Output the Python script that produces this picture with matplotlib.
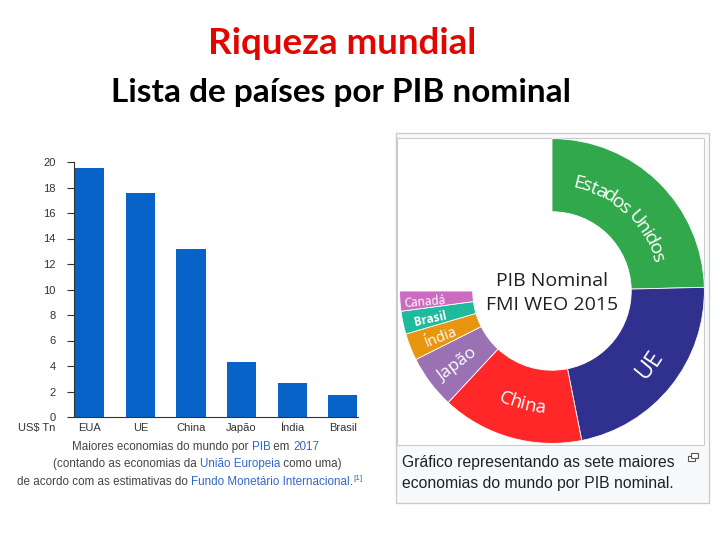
"""
Riqueza mundial - slide with GDP bar chart and nominal GDP donut
"""
import matplotlib
matplotlib.use("Agg")
import matplotlib.pyplot as plt
import numpy as np
from matplotlib.patches import Rectangle

# --- data ---
bar_countries = ["EUA", "UE", "China", "Japão", "Índia", "Brasil"]
bar_gdp = [19.5, 17.6, 13.2, 4.3, 2.65, 1.7]   # US$ trilhões, 2017
bar_yticks = [0, 2, 4, 6, 8, 10, 12, 14, 16, 18, 20]

donut_labels = ["Estados Unidos", "UE", "China", "Japão", "Índia", "Brasil", "Canadá"]
donut_gdp = [17.95, 16.23, 10.98, 4.12, 2.09, 1.77, 1.55]   # FMI WEO 2015
donut_colors = ["#31a84b", "#30318f", "#ff2727", "#9a71b3", "#e8950f", "#1fb99b", "#cc6cc0"]

BAR_BLUE = "#0863c9"
LINK_BLUE = "#3366cc"
GRAY_TXT = "#444444"

fig = plt.figure(figsize=(7.2, 5.4), dpi=100)
renderer = fig.canvas.get_renderer()

# background axes in pixel coordinates (y down)
bg = fig.add_axes([0, 0, 1, 1])
bg.set_xlim(0, 720)
bg.set_ylim(540, 0)
bg.axis("off")


def px_axes(left, top, right, bottom):
    return fig.add_axes([left / 720, 1 - bottom / 540, (right - left) / 720, (bottom - top) / 540])


def text_width(s, **kw):
    # width including trailing spaces
    t = fig.text(0, 0, s + "x", **kw)
    w1 = t.get_window_extent(renderer).width
    t.remove()
    t = fig.text(0, 0, "x", **kw)
    w2 = t.get_window_extent(renderer).width
    t.remove()
    return w1 - w2


def rich_line(x, y, pieces, **kw):
    cur = x
    for s, color in pieces:
        bg.text(cur, y, s, color=color, ha="left", va="baseline", **kw)
        cur += text_width(s, **kw)
    return cur


### Titles ###
bg.text(342, 54, "Riqueza mundial", color="#e10600", fontsize=26.5, family="Lato",
        weight="bold", ha="center", va="baseline")
bg.text(341, 102, "Lista de países por PIB nominal", color="black", fontsize=24, family="Lato",
        weight="bold", ha="center", va="baseline")

### Bar chart ###
ax = px_axes(74, 162, 358, 417)
xpos = np.arange(len(bar_countries))
ax.bar(xpos, bar_gdp, width=0.58, color=BAR_BLUE)
ax.set_xlim(-0.31, 5.3)
ax.set_ylim(0, 20)
ax.set_yticks(bar_yticks)
ax.set_xticks(xpos, bar_countries)
for side in ["top", "right"]:
    ax.spines[side].set_visible(False)
for side in ["left", "bottom"]:
    ax.spines[side].set_linewidth(0.8)
    ax.spines[side].set_color("#333333")
ax.tick_params(axis="y", length=5, width=0.8, pad=8, labelsize=8, colors="#333333")
ax.tick_params(axis="x", length=0, pad=4, labelsize=8, colors="#333333")
for lbl in ax.get_xticklabels() + ax.get_yticklabels():
    lbl.set_family("Liberation Sans")
bg.text(18, 428, "US$ Tn", fontsize=8, family="Liberation Sans", color="#333333",
        ha="left", va="center")

cap_kw = dict(fontsize=8.4, family="Liberation Sans")
rich_line(72, 450, [("Maiores economias do mundo por ", GRAY_TXT), ("PIB", LINK_BLUE),
                    (" em ", GRAY_TXT), ("2017", LINK_BLUE)], **cap_kw)
rich_line(53, 467.5, [("(contando as economias da ", GRAY_TXT), ("União Europeia", LINK_BLUE),
                      (" como uma)", GRAY_TXT)], **cap_kw)
end = rich_line(17, 485, [("de acordo com as estimativas do ", GRAY_TXT),
                          ("Fundo Monetário Internacional", LINK_BLUE), (".", GRAY_TXT)], **cap_kw)
bg.text(end + 1, 480, "[1]", color=LINK_BLUE, fontsize=5.8, family="Liberation Sans",
        ha="left", va="baseline")

### Right panel frame ###
bg.add_patch(Rectangle((396, 133), 313, 370, facecolor="#f8f9fa", edgecolor="#c8ccd1", lw=1))
bg.add_patch(Rectangle((397, 138), 307, 307, facecolor="white", edgecolor="#c8ccd1", lw=0.8))
bg.text(402, 467, "Gráfico representando as sete maiores", fontsize=11.3,
        family="Liberation Sans", color="#202122", ha="left", va="baseline")
bg.text(402, 488, "economias do mundo por PIB nominal.", fontsize=11.3,
        family="Liberation Sans", color="#202122", ha="left", va="baseline")
bg.add_patch(Rectangle((688, 456), 7, 5, facecolor="white", edgecolor="#555555", lw=0.8))
bg.add_patch(Rectangle((691, 453), 7, 5, facecolor="white", edgecolor="#555555", lw=0.8))

### Donut ###
dax = px_axes(392, 131, 712, 451)   # square, center (552, 291)
blank = sum(donut_gdp) / 3.0        # the chart only covers three quarters
wedges, _ = dax.pie(donut_gdp + [blank], colors=donut_colors + ["white"], startangle=90,
                    counterclock=False, radius=1,
                    wedgeprops=dict(width=0.48, edgecolor="white", linewidth=0.6))
wedges[-1].set_visible(False)
dax.set_xlim(-1.05, 1.05)
dax.set_ylim(-1.05, 1.05)
dax.axis("off")

px_per_unit = 320 / 2.1


def arc_text(s, c0, r, fontsize, tops_out=False, weight="normal", track=0.9):
    # c0: compass angle (deg, clockwise from top) of text centre
    kw = dict(fontsize=fontsize, family="Open Sans", weight=weight)
    widths = [text_width(ch, **kw) * track for ch in s]
    r_px = r * px_per_unit
    span = np.degrees(sum(widths) / r_px)
    if tops_out:
        start, step = c0 - span / 2, 1
    else:
        start, step = c0 + span / 2, -1
    pos = 0.0
    for ch, w in zip(s, widths):
        c = start + step * np.degrees((pos + w / 2) / r_px)
        pos += w
        th = np.radians(90 - c)
        rot = -c if tops_out else 180 - c
        dax.text(r * np.cos(th), r * np.sin(th), ch, rotation=rot, rotation_mode="anchor",
                 ha="center", va="center_baseline", color="white", **kw)


def radial_text(s, c0, r, fontsize, weight="normal"):
    # text running from the outer edge towards the hole
    th = np.radians(90 - c0)
    rot = np.degrees(np.arctan2(-np.sin(th), -np.cos(th)))
    dax.text(r * np.cos(th), r * np.sin(th), s, rotation=rot, rotation_mode="anchor",
             ha="center", va="center_baseline", color="white", fontsize=fontsize,
             family="Open Sans", weight=weight)


arc_text(donut_labels[0], 43, 0.74, 14, tops_out=True, track=0.88)
arc_text(donut_labels[1], 127, 0.78, 17)
arc_text(donut_labels[2], 195, 0.755, 13.5)
radial_text(donut_labels[3], 233, 0.79, 12.5)
radial_text(donut_labels[4], 248.4, 0.79, 10.5)
radial_text(donut_labels[5], 257.9, 0.82, 8.5, weight="bold")
radial_text(donut_labels[6], 265.8, 0.84, 8.5)

dax.text(0, 0.033, "PIB Nominal", ha="center", va="baseline", fontsize=14,
         family="Open Sans", color="#231f20")
dax.text(0, -0.125, "FMI WEO 2015", ha="center", va="baseline", fontsize=14,
         family="Open Sans", color="#231f20")

fig.savefig("out.png", dpi=100)
